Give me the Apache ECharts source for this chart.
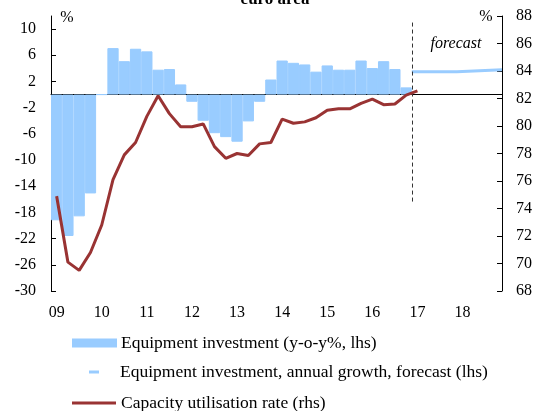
<!DOCTYPE html>
<html>
<head>
<meta charset="utf-8">
<script src="https://cdn.jsdelivr.net/npm/echarts@6/dist/echarts.min.js"></script>
<style>
  html, body { margin: 0; padding: 0; background: #fff; }
  #chart { width: 536px; height: 411px; }
</style>
</head>
<body>
<div id="chart"></div>
<script>
// quarters 2009Q1 .. 2018Q4
const years = ["09", "10", "11", "12", "13", "14", "15", "16", "17", "18"];
const quarters = years.flatMap((y) => [y + "Q1", y + "Q2", y + "Q3", y + "Q4"]);

// equipment investment, y-o-y %, 2009Q1 .. 2016Q4
const investment = [
  -19.2, -21.6, -18.6, -15.1,
  0, 7.1, 5.1, 7.0,
  6.6, 3.8, 3.9, 1.55,
  -1.1, -4.0, -5.9, -6.5,
  -7.2, -4.1, -1.1, 2.3,
  5.2, 4.85, 4.6, 3.5,
  4.45, 3.8, 3.8, 5.2,
  4.05, 5.1, 3.9, 1.1,
];

// capacity utilisation rate, %, 2009Q1 .. 2017Q1
const capacity = [
  74.9, 70.1, 69.5, 70.8,
  72.8, 76.1, 77.9, 78.8,
  80.7, 82.2, 80.9, 79.95,
  79.95, 80.15, 78.5, 77.65,
  78.0, 77.85, 78.7, 78.8,
  80.5, 80.2, 80.3, 80.6,
  81.15, 81.25, 81.25, 81.65,
  81.95, 81.55, 81.6, 82.25,
  82.55,
];

// annual growth forecast
const forecastYears = ["17", "18"];
const forecastGrowth = [3.5, 3.8];

const leftTicks = [-30, -26, -22, -18, -14, -10, -6, -2, 2, 6, 10];
const rightTicks = [68, 70, 72, 74, 76, 78, 80, 82, 84, 86, 88];

const nameInv = "Equipment investment (y-o-y%, lhs)";
const nameFc = "Equipment investment, annual growth, forecast (lhs)";
const nameCap = "Capacity utilisation rate (rhs)";

const FONT = "Liberation Serif";
const BLUE = "#99ccff";
const RED = "#993333";

// forecast steps on the quarter scale (category i spans [i, i+1])
const fcStart = quarters.indexOf(forecastYears[0] + "Q1");
const fcPoints = forecastYears.map((y, i) => [quarters.indexOf(y + "Q1"), forecastGrowth[i]]);
fcPoints.push([quarters.length, forecastGrowth[forecastGrowth.length - 1]]);

const chart = echarts.init(document.getElementById("chart"), null, { renderer: "canvas" });

const legendText = { fontFamily: FONT, fontSize: 17.5, color: "#000", lineHeight: 20 };

const option = {
  animation: false,
  textStyle: { fontFamily: FONT },
  grid: { left: 51, right: 34, top: 16, bottom: 120, containLabel: false },
  graphic: [
    {
      type: "text", x: 275, y: 8,
      style: { text: "euro area", font: "bold 17px " + FONT, fill: "#000", align: "center", verticalAlign: "bottom" },
    },
    {
      type: "text", x: 67, y: 18,
      style: { text: "%", font: "16px " + FONT, fill: "#000", align: "center", verticalAlign: "middle" },
    },
    {
      type: "text", x: 486, y: 17,
      style: { text: "%", font: "16px " + FONT, fill: "#000", align: "center", verticalAlign: "middle" },
    },
    {
      type: "text", x: 456, y: 44,
      style: { text: "forecast", font: "italic 16px " + FONT, fill: "#000", align: "center", verticalAlign: "middle" },
    },
  ],
  legend: [
    {
      data: [nameInv], left: 72, top: 333, padding: 0,
      itemWidth: 43, itemHeight: 7, icon: "rect",
      textStyle: legendText,
    },
    {
      data: [nameFc], left: 89, top: 362, padding: 0,
      itemWidth: 10, itemHeight: 3, icon: "rect",
      textStyle: Object.assign({}, legendText, { padding: [0, 0, 0, 16] }),
    },
    {
      data: [nameCap], left: 72, top: 393, padding: 0,
      itemWidth: 44, itemHeight: 3, icon: "rect",
      textStyle: legendText,
    },
  ],
  xAxis: [
    {
      // labels along the bottom
      type: "category", data: quarters, position: "bottom",
      axisLine: { show: false }, axisTick: { show: false },
      axisLabel: {
        interval: 3, margin: 14, color: "#000", fontFamily: FONT, fontSize: 16,
        formatter: (v) => v.slice(0, 2),
      },
    },
    {
      // axis line with ticks on zero
      type: "category", data: quarters, position: "bottom",
      axisLine: { onZero: true, onZeroAxisIndex: 0, lineStyle: { color: "#000", width: 1 } },
      axisTick: { inside: true, interval: 3, length: 5, lineStyle: { color: "#000" } },
      axisLabel: { show: false },
    },
    { type: "value", min: 0, max: quarters.length, show: false },
  ],
  yAxis: [
    {
      type: "value", min: -30, max: 12, position: "left",
      axisLine: { show: true, lineStyle: { color: "#000" } },
      axisTick: { show: true, inside: true, length: 5, customValues: leftTicks, lineStyle: { color: "#000" } },
      axisLabel: { customValues: leftTicks, margin: 15, color: "#000", fontFamily: FONT, fontSize: 16 },
      splitLine: { show: false },
    },
    {
      type: "value", min: 68, max: 88, position: "right",
      axisLine: { show: true, lineStyle: { color: "#000" } },
      axisTick: { show: true, inside: true, length: 5, customValues: rightTicks, lineStyle: { color: "#000" } },
      axisLabel: { customValues: rightTicks, margin: 14, color: "#000", fontFamily: FONT, fontSize: 16 },
      splitLine: { show: false },
    },
  ],
  series: [
    {
      name: nameInv, type: "bar", xAxisIndex: 0, yAxisIndex: 0,
      data: investment, barCategoryGap: "0%",
      itemStyle: { color: BLUE, borderColor: BLUE, borderWidth: 1 }, z: 1,
    },
    {
      name: nameFc, type: "line", xAxisIndex: 2, yAxisIndex: 0,
      data: fcPoints, step: "end", symbol: "none",
      lineStyle: { color: BLUE, width: 3 }, itemStyle: { color: BLUE }, z: 2,
      markLine: {
        silent: true, symbol: "none", label: { show: false },
        lineStyle: { color: "#333", type: [4, 3], width: 1 },
        data: [[{ coord: [fcStart, 11] }, { coord: [fcStart, -16.6] }]],
      },
    },
    {
      name: nameCap, type: "line", xAxisIndex: 0, yAxisIndex: 1,
      data: capacity, symbol: "none",
      lineStyle: { color: RED, width: 3 }, itemStyle: { color: RED }, z: 5,
    },
  ],
};

chart.setOption(option);
window.addEventListener("resize", () => chart.resize());
</script>
</body>
</html>
